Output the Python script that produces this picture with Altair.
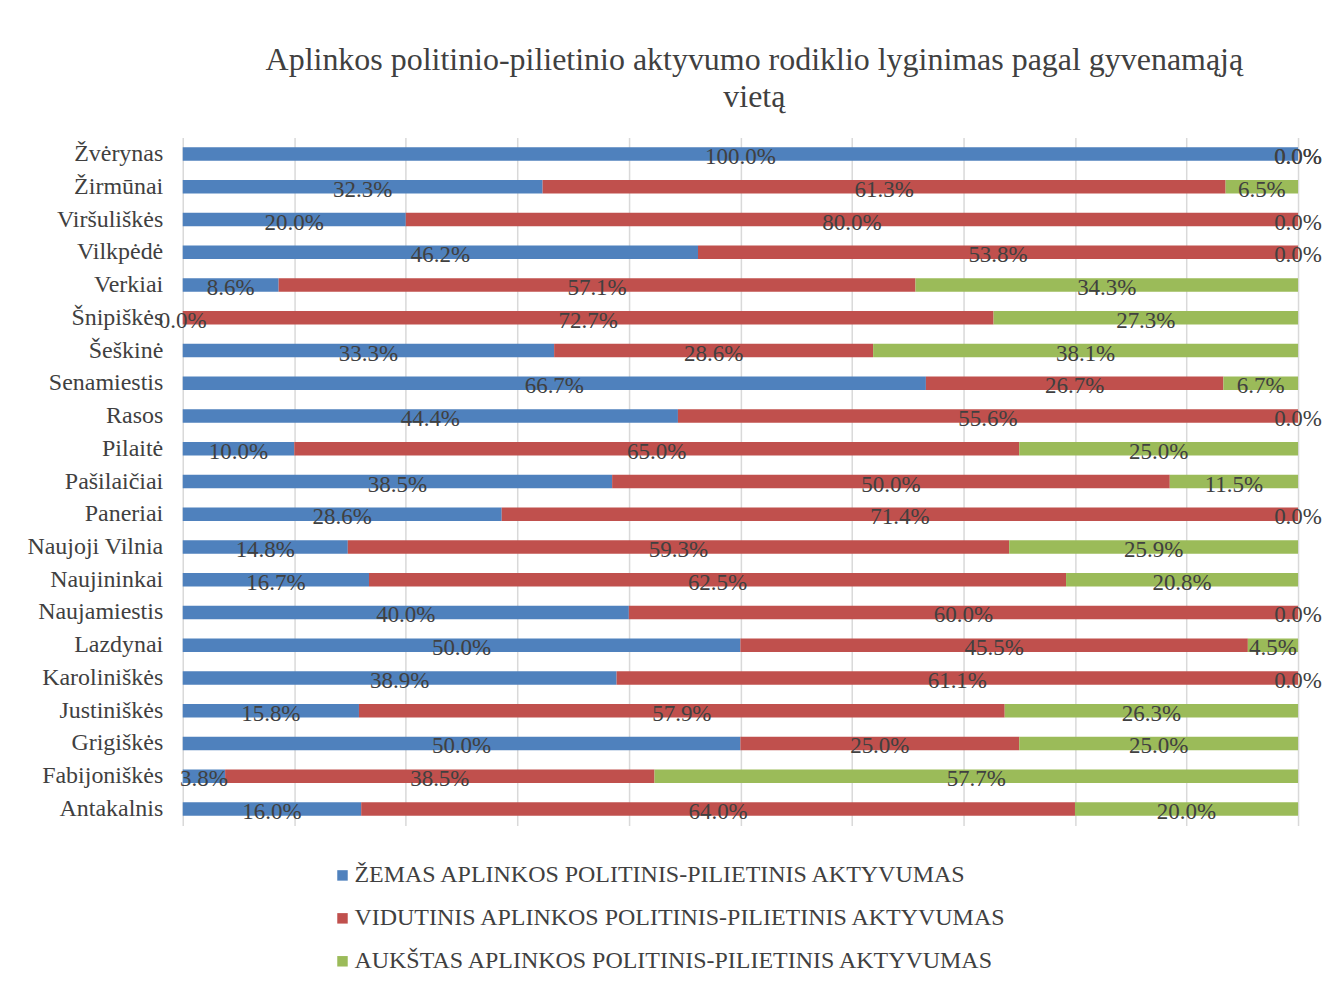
import altair as alt
import pandas as pd

places = ["Žvėrynas", "Žirmūnai", "Viršuliškės", "Vilkpėdė", "Verkiai", "Šnipiškės",
          "Šeškinė", "Senamiestis", "Rasos", "Pilaitė", "Pašilaičiai", "Paneriai",
          "Naujoji Vilnia", "Naujininkai", "Naujamiestis", "Lazdynai", "Karoliniškės",
          "Justiniškės", "Grigiškės", "Fabijoniškės", "Antakalnis"]
low = [100.0, 32.3, 20.0, 46.2, 8.6, 0.0, 33.3, 66.7, 44.4, 10.0, 38.5, 28.6,
       14.8, 16.7, 40.0, 50.0, 38.9, 15.8, 50.0, 3.8, 16.0]
mid = [0.0, 61.3, 80.0, 53.8, 57.1, 72.7, 28.6, 26.7, 55.6, 65.0, 50.0, 71.4,
       59.3, 62.5, 60.0, 45.5, 61.1, 57.9, 25.0, 38.5, 64.0]
high = [0.0, 6.5, 0.0, 0.0, 34.3, 27.3, 38.1, 6.7, 0.0, 25.0, 11.5, 0.0,
        25.9, 20.8, 0.0, 4.5, 0.0, 26.3, 25.0, 57.7, 20.0]
series = ["ŽEMAS APLINKOS POLITINIS-PILIETINIS AKTYVUMAS",
          "VIDUTINIS APLINKOS POLITINIS-PILIETINIS AKTYVUMAS",
          "AUKŠTAS APLINKOS POLITINIS-PILIETINIS AKTYVUMAS"]
colors = ["#4F81BD", "#C0504D", "#9BBB59"]
title_lines = ["Aplinkos politinio-pilietinio aktyvumo rodiklio lyginimas pagal gyvenamąją", "vietą"]

rows = []
for i, p in enumerate(places):
    for j, vals in enumerate([low, mid, high]):
        rows.append({"place": p, "series": series[j], "order": j, "value": vals[i]})
df = pd.DataFrame(rows)

FONT = "Liberation Serif"
TXT = "#404040"

base = alt.Chart(df).transform_stack(
    stack="value", groupby=["place"], as_=["x0", "x1"],
    sort=[alt.SortField("order", "ascending")], offset="normalize"
).transform_calculate(
    xm="(datum.x0 + datum.x1) / 2",
    label="format(datum.value, '.1f') + '%'"
)

yaxis = alt.Axis(title=None, domain=False, ticks=False, labelPadding=20,
                 labelFont=FONT, labelFontSize=24, labelColor=TXT, labelLimit=0)
yscale = alt.Scale(paddingInner=0.59, paddingOuter=0.3)
xaxis = alt.Axis(values=[i / 10 for i in range(11)], labels=False, ticks=False,
                 domain=False, title=None, grid=True, gridColor="#d9d9d9", gridWidth=1.5)
xscale = alt.Scale(domain=[0, 1], nice=False)

bars = base.mark_bar().encode(
    x=alt.X("x0:Q", scale=xscale, axis=xaxis),
    x2="x1:Q",
    y=alt.Y("place:N", sort=places, scale=yscale, axis=yaxis),
    color=alt.Color("series:N", scale=alt.Scale(domain=series, range=colors),
                    legend=alt.Legend(title=None, orient="none", legendX=148, legendY=727,
                                      direction="vertical", symbolType="square",
                                      symbolSize=110, symbolStrokeWidth=0,
                                      labelFont=FONT, labelFontSize=24, labelColor=TXT,
                                      labelLimit=0, rowPadding=19, labelOffset=0)),
    order=alt.Order("order:Q")
)

labels = base.mark_text(font=FONT, fontSize=23, color=TXT, align="center",
                        baseline="middle", dy=3).encode(
    x=alt.X("xm:Q", scale=xscale, axis=xaxis),
    y=alt.Y("place:N", sort=places, scale=yscale, axis=yaxis),
    text="label:N"
)

chart = alt.layer(bars, labels).properties(
    width=1117, height=689,
    padding={"left": 175, "top": 129, "right": 28, "bottom": 150},
    autosize="none",
    background="white",
    title=alt.TitleParams(title_lines, fontSize=32, font=FONT, fontWeight="normal",
                          color=TXT, anchor="middle", offset=24, lineHeight=37, dx=14)
).configure_view(stroke=None)

chart.save("out.html", embed_options={"renderer": "svg", "actions": False})
